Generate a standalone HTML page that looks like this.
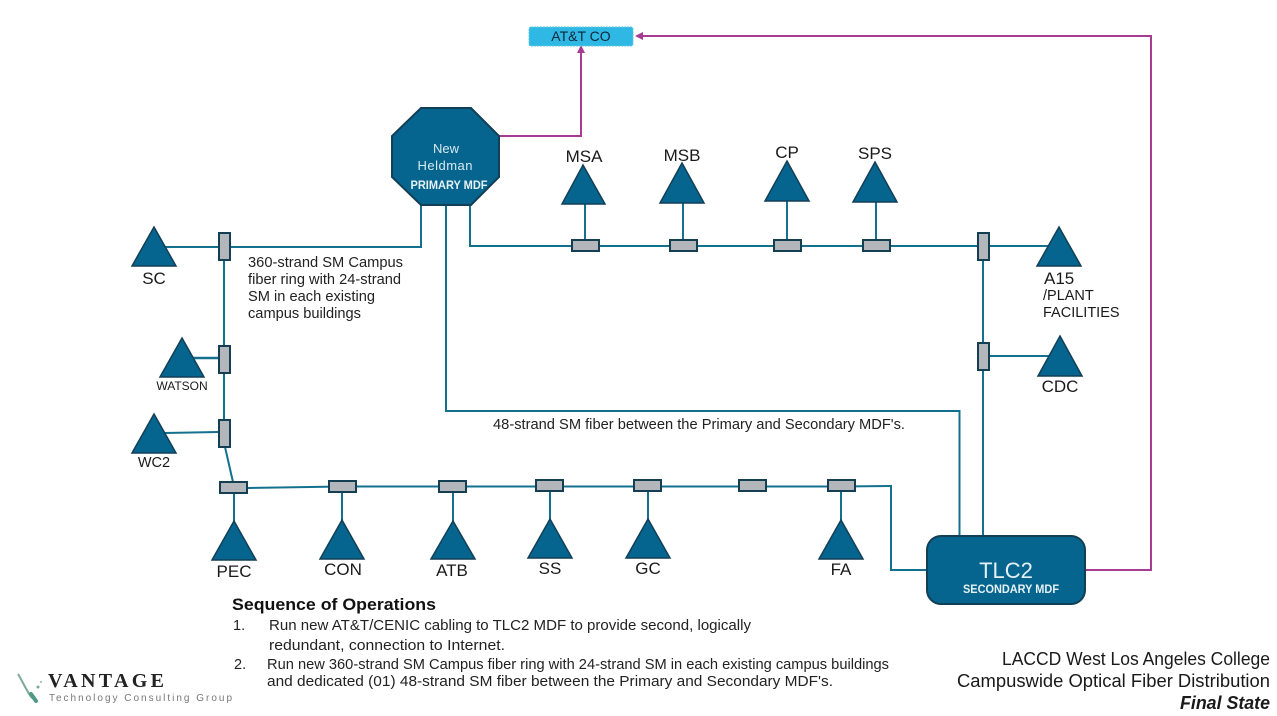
<!DOCTYPE html>
<html>
<head>
<meta charset="utf-8">
<style>
html,body{margin:0;padding:0;background:#fff;width:1277px;height:716px;overflow:hidden}
svg{display:block;font-family:"Liberation Sans",sans-serif}
.l{fill:none;stroke:#13718f;stroke-width:2}
.p{fill:none;stroke:#a83c92;stroke-width:2}
.t{fill:#05658f;stroke:#123f56;stroke-width:1.5;stroke-linejoin:miter}
.s{fill:#b3b6ba;stroke:#143f52;stroke-width:2}
.n{font-size:17px;fill:#1a1a1a;text-anchor:middle}
.d{font-size:14.500px;fill:#222}
.q{font-size:14.500px;fill:#222}
.f{font-size:18px;fill:#1a1a1a;text-anchor:end}
</style>
</head>
<body>
<svg width="1277" height="716" viewBox="0 0 1277 716" xmlns="http://www.w3.org/2000/svg">
<rect width="1277" height="716" fill="#fff"/>

<!-- Purple links -->
<path class="p" d="M499 136H581V52"/>
<path class="p" d="M1086 570H1151V36H642"/>
<polygon points="581,45 577,53 585,53" fill="#a83c92"/>
<polygon points="635,36 643,32 643,40" fill="#a83c92"/>

<!-- Fiber lines -->
<path class="l" d="M165 247H421V205"/>
<path class="l" d="M224 260V420"/>
<path class="l" d="M225 447L233 482"/>
<path class="l" d="M193 358H218" style="stroke-width:2.5"/>
<path class="l" d="M165 433L218 432"/>
<path class="l" d="M248 488L342 486.500H840L891 486V570H927"/>
<path class="l" d="M234 493V521M342 492V520M453 492V521M550 491V519M648 491V519M841 491V520"/>
<path class="l" d="M470 205V246H977"/>
<path class="l" d="M585 204V240M683 203V240M787 201V240M876 202V240"/>
<path class="l" d="M989 246H1048"/>
<path class="l" d="M983 260V536"/>
<path class="l" d="M989 356H1049"/>
<path class="l" d="M446 205V411H959.500V536"/>

<!-- Splices vertical -->
<rect class="s" x="219" y="233" width="11" height="27"/>
<rect class="s" x="219" y="346" width="11" height="27"/>
<rect class="s" x="219" y="420" width="11" height="27"/>
<rect class="s" x="978" y="233" width="11" height="27"/>
<rect class="s" x="978" y="343" width="11" height="27"/>
<!-- Splices horizontal -->
<rect class="s" x="220" y="482" width="27" height="11"/>
<rect class="s" x="329" y="481" width="27" height="11"/>
<rect class="s" x="439" y="481" width="27" height="11"/>
<rect class="s" x="536" y="480" width="27" height="11"/>
<rect class="s" x="634" y="480" width="27" height="11"/>
<rect class="s" x="739" y="480" width="27" height="11"/>
<rect class="s" x="828" y="480" width="27" height="11"/>
<rect class="s" x="572" y="240" width="27" height="11"/>
<rect class="s" x="670" y="240" width="27" height="11"/>
<rect class="s" x="774" y="240" width="27" height="11"/>
<rect class="s" x="863" y="240" width="27" height="11"/>

<!-- Triangles -->
<polygon class="t" points="583,165 605,204 562,204"/>
<polygon class="t" points="682,163 704,203 660,203"/>
<polygon class="t" points="787,161 809,201 765,201"/>
<polygon class="t" points="875,162 897,202 853,202"/>
<polygon class="t" points="1059,227 1081,266 1037,266"/>
<polygon class="t" points="1060,336 1082,376 1038,376"/>
<polygon class="t" points="154,227 176,266 132,266"/>
<polygon class="t" points="182,338 204,377 160,377"/>
<polygon class="t" points="154,414 176,453 132,453"/>
<polygon class="t" points="234,521 256,560 212,560"/>
<polygon class="t" points="342,520 364,559 320,559"/>
<polygon class="t" points="453,521 475,559 431,559"/>
<polygon class="t" points="550,519 572,558 528,558"/>
<polygon class="t" points="648,519 670,558 626,558"/>
<polygon class="t" points="841,520 863,559 819,559"/>

<!-- AT&T -->
<rect x="529" y="27" width="104" height="19" rx="2" fill="#2fb8e4" stroke="#5cc8ea" stroke-dasharray="2 1"/>
<text x="581" y="41" font-size="14" fill="#12253a" text-anchor="middle">AT&amp;T CO</text>

<!-- Primary MDF -->
<polygon points="421,108 471,108 499,136 499,177 471,205 421,205 392,177 392,136" fill="#05658f" stroke="#123f56" stroke-width="2"/>
<text x="446" y="153" font-size="13" fill="#d8e9f0" text-anchor="middle">New</text>
<text x="445" y="170" font-size="13" fill="#d8e9f0" text-anchor="middle" textLength="55">Heldman</text>
<text x="449" y="189" font-size="11.500" font-weight="bold" fill="#e6f1f5" text-anchor="middle" textLength="77" lengthAdjust="spacingAndGlyphs">PRIMARY MDF</text>

<!-- TLC2 -->
<rect x="927" y="536" width="158" height="68" rx="14" fill="#05658f" stroke="#123f56" stroke-width="2"/>
<text x="1006" y="578" font-size="22" fill="#e6f1f5" text-anchor="middle">TLC2</text>
<text x="1011" y="593" font-size="12" font-weight="bold" fill="#e6f1f5" text-anchor="middle" textLength="96" lengthAdjust="spacingAndGlyphs">SECONDARY MDF</text>

<!-- Node labels -->
<text class="n" x="584" y="162">MSA</text>
<text class="n" x="682" y="161">MSB</text>
<text class="n" x="787" y="158">CP</text>
<text class="n" x="875" y="159">SPS</text>
<text class="n" x="154" y="284">SC</text>
<text x="182" y="390" font-size="12" fill="#1a1a1a" text-anchor="middle">WATSON</text>
<text x="154" y="467" font-size="14.500" fill="#1a1a1a" text-anchor="middle">WC2</text>
<text class="n" x="234" y="577">PEC</text>
<text class="n" x="343" y="575">CON</text>
<text class="n" x="452" y="576">ATB</text>
<text class="n" x="550" y="574">SS</text>
<text class="n" x="648" y="574">GC</text>
<text class="n" x="841" y="575">FA</text>
<text x="1044" y="284" font-size="17" fill="#1a1a1a">A15</text>
<text x="1043" y="300" font-size="14.500" fill="#1a1a1a">/PLANT</text>
<text x="1043" y="317" font-size="14.500" fill="#1a1a1a">FACILITIES</text>
<text class="n" x="1060" y="392">CDC</text>

<!-- Descriptions -->
<text class="d" x="248" y="267" textLength="155" lengthAdjust="spacingAndGlyphs">360-strand SM Campus</text>
<text class="d" x="248" y="284" textLength="153" lengthAdjust="spacingAndGlyphs">fiber ring with 24-strand</text>
<text class="d" x="248" y="301" textLength="127" lengthAdjust="spacingAndGlyphs">SM in each existing</text>
<text class="d" x="248" y="318" textLength="113" lengthAdjust="spacingAndGlyphs">campus buildings</text>
<text class="d" x="493" y="429" textLength="412" lengthAdjust="spacingAndGlyphs">48-strand SM fiber between the Primary and Secondary MDF's.</text>

<!-- Sequence -->
<text x="232" y="610" font-size="17" font-weight="bold" fill="#111" textLength="204" lengthAdjust="spacingAndGlyphs">Sequence of Operations</text>
<text class="q" x="233" y="630">1.</text>
<text class="q" x="269" y="630" textLength="482" lengthAdjust="spacingAndGlyphs">Run new AT&amp;T/CENIC cabling to TLC2 MDF to provide second, logically</text>
<text class="q" x="269" y="650" textLength="236" lengthAdjust="spacingAndGlyphs">redundant, connection to Internet.</text>
<text class="q" x="234" y="669">2.</text>
<text class="q" x="267" y="669" textLength="622" lengthAdjust="spacingAndGlyphs">Run new 360-strand SM Campus fiber ring with 24-strand SM in each existing campus buildings</text>
<text class="q" x="267" y="686" textLength="566" lengthAdjust="spacingAndGlyphs">and dedicated (01) 48-strand SM fiber between the Primary and Secondary MDF's.</text>

<!-- Footer title -->
<text class="f" x="1002" y="665" style="text-anchor:start" textLength="268" lengthAdjust="spacingAndGlyphs">LACCD West Los Angeles College</text>
<text class="f" x="957" y="687" style="text-anchor:start" textLength="313" lengthAdjust="spacingAndGlyphs">Campuswide Optical Fiber Distribution</text>
<text class="f" x="1180" y="709" style="text-anchor:start" font-weight="bold" font-style="italic" textLength="90" lengthAdjust="spacingAndGlyphs">Final State</text>

<!-- Logo -->
<path d="M18 674C23 682 27 692 32 698" fill="none" stroke="#7fa898" stroke-width="2"/>
<path d="M31 694L36 701" fill="none" stroke="#4f9a84" stroke-width="4" stroke-linecap="round"/>
<circle cx="38" cy="687" r="1.500" fill="#7fa898"/>
<circle cx="41" cy="682" r="1" fill="#9ab8ac"/>
<text x="48" y="687" font-family="Liberation Serif" font-size="20" font-weight="bold" fill="#222" textLength="116">VANTAGE</text>
<text x="49" y="701" font-size="10" fill="#777" textLength="183">Technology Consulting Group</text>
</svg>
</body>
</html>
